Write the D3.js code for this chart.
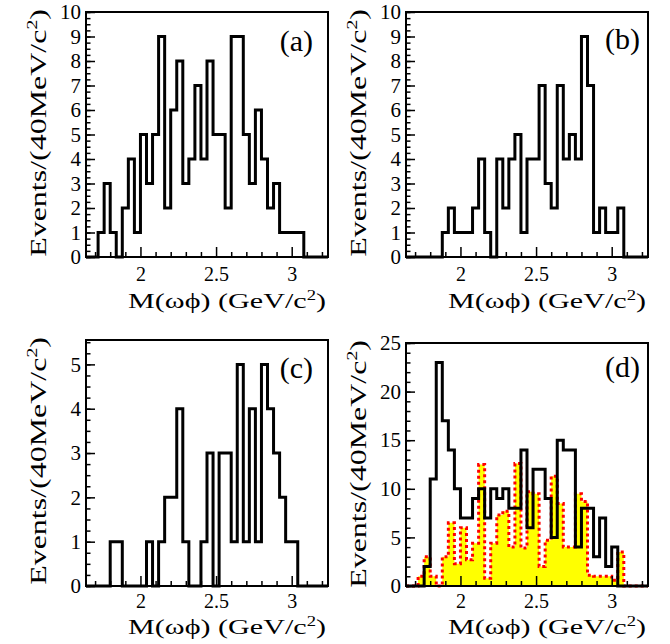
<!DOCTYPE html>
<html>
<head>
<meta charset="utf-8">
<script src="https://cdn.jsdelivr.net/npm/d3@7"></script>
<style>
  body { margin: 0; background: #fff; }
  text { font-family: "Liberation Serif", "DejaVu Serif", serif; fill: #000; }
</style>
</head>
<body>
<svg width="670" height="644"></svg>
<script>
// binning: 40 bins of 40 MeV starting at 1.64 GeV
const binLow = 1.64, binWidth = 0.04, nBins = 40;

// events per bin
const countsA = [0,0,1,3,1,0,2,4,1,5, 3,5,9,2,6,8,3,4,7,4, 8,5,5,2,9,9,5,3,6,4, 2,3,1,1,1,1,0,0,0,0];
const countsB = [0,0,0,0,0,0,1,2,1,1, 1,2,4,1,0,4,2,4,5,1, 4,4,7,3,2,7,4,5,4,9, 7,1,2,1,1,2,0,0,0,0];
const countsC = [0,0,0,0,1,1,0,0,0,0, 1,0,1,2,2,4,1,0,0,1, 3,0,3,3,1,5,1,4,1,5, 4,3,2,1,1,0,0,0,0,0];
const countsD = [0,0,0,2,11,23,17,14,10,7, 7,9,10,7,10,9,10,8,8,14, 6,12,12,9,5,15,14,14,4,8, 8,3,7,2,4,0,0,0,0,0];
// yellow (red dotted) histogram in panel (d)
const bkgD    = [0,0,1,3,1,0,3,6.5,2.3,6, 2.7,4.4,12.5,0.8,4.4,7.3,7.7,4,12.6,3.9,
                 9.7,9.5,2,4.7,11.3,8.5,4,4,9.5,8.7, 1.1,1,1,1,0.6,3.5,0,0,0,0];

// tick labels
const xTicks = [2, 2.5, 3];
const xTickLabels = ['2', '2.5', '3'];
const xMinorTicks = [1.7,1.8,1.9,2.1,2.2,2.3,2.4,2.6,2.7,2.8,2.9,3.1,3.2];
const yTicksAB = [0,1,2,3,4,5,6,7,8,9,10];
const yTicksC = [0,1,2,3,4,5];
const yTicksD = [0,5,10,15,20,25];

const xTitle = 'M(ωϕ) (GeV/c', yTitle = 'Events/(40MeV/c';

const panels = [
  {name:'(a)', counts:countsA, ymax:10,   yticks:yTicksAB, minor:0.25, x:86,  y:12,  w:242, h:245, lab:[313,51]},
  {name:'(b)', counts:countsB, ymax:10,   yticks:yTicksAB, minor:0.25, x:406, y:12,  w:242, h:245, lab:[640,49]},
  {name:'(c)', counts:countsC, ymax:5.55, yticks:yTicksC,  minor:0.25, x:86,  y:340, w:242, h:246, lab:[313,378]},
  {name:'(d)', counts:countsD, ymax:25,   yticks:yTicksD,  minor:1,    x:406, y:343, w:242, h:243, lab:[640,377], bkg:bkgD}
];

const svg = d3.select('svg');

function steps(counts) {
  let pts = counts.map((c, i) => ({x: binLow + i*binWidth, y: c}));
  pts.push({x: binLow + nBins*binWidth, y: counts[nBins-1]});
  return pts;
}

// stretch a text along its own direction so it spans `target` px
function fit(text, target) {
  let w = text.node().getBBox().width;
  text.attr('transform', 'scale(' + (target / w) + ',1)');
}

function addTitle(g, str, size) {
  let t = g.append('text').attr('text-anchor', 'end').style('font-size', size + 'px');
  t.append('tspan').text(str);
  t.append('tspan').attr('dy', -size*0.38).style('font-size', (size*0.62) + 'px').text('2');
  t.append('tspan').attr('dy', size*0.38).text(')');
  return t;
}

panels.forEach((p, pi) => {
  const x = d3.scaleLinear().domain([binLow, binLow + nBins*binWidth]).range([p.x, p.x + p.w]);
  const y = d3.scaleLinear().domain([0, p.ymax]).range([p.y + p.h, p.y]);
  const bottom = p.y + p.h;

  const clipId = 'clip' + pi;
  svg.append('clipPath').attr('id', clipId).append('rect')
    .attr('x', p.x).attr('y', p.y - 2).attr('width', p.w).attr('height', p.h + 4);

  const plot = svg.append('g').attr('clip-path', 'url(#' + clipId + ')');

  if (p.bkg) {
    const b = steps(p.bkg);
    plot.append('path').datum(b)
      .attr('d', d3.area().curve(d3.curveStepAfter).x(d => x(d.x)).y0(y(0)).y1(d => y(d.y)))
      .attr('fill', '#ffff00');
    plot.append('path').datum(b)
      .attr('d', d3.line().curve(d3.curveStepAfter).x(d => x(d.x)).y(d => y(d.y)))
      .attr('fill', 'none').attr('stroke', '#ff0000').attr('stroke-width', 3)
      .attr('stroke-dasharray', '3,3');
  }

  plot.append('path').datum(steps(p.counts))
    .attr('d', d3.line().curve(d3.curveStepAfter).x(d => x(d.x)).y(d => y(d.y)))
    .attr('fill', 'none').attr('stroke', '#000').attr('stroke-width', 3);

  // frame
  svg.append('rect').attr('x', p.x).attr('y', p.y).attr('width', p.w).attr('height', p.h)
    .attr('fill', 'none').attr('stroke', '#000').attr('stroke-width', 2);

  // x axis (ticks inside)
  const xa = svg.append('g').attr('transform', 'translate(0,' + bottom + ')')
    .call(d3.axisBottom(x).tickValues(xTicks).tickFormat((d, i) => xTickLabels[i])
      .tickSize(-10).tickPadding(pi < 2 ? 10 : 8));
  svg.append('g').attr('transform', 'translate(0,' + bottom + ')')
    .call(d3.axisBottom(x).tickValues(xMinorTicks).tickFormat('').tickSize(-5))
    .call(g => g.select('.domain').remove());
  xa.select('.domain').remove();
  xa.selectAll('text').style('font-size', '20px').style('font-family', '"Liberation Serif", serif');

  // y axis
  const ya = svg.append('g').attr('transform', 'translate(' + p.x + ',0)')
    .call(d3.axisLeft(y).tickValues(p.yticks).tickFormat(d3.format('d')).tickSize(-9).tickPadding(5));
  svg.append('g').attr('transform', 'translate(' + p.x + ',0)')
    .call(d3.axisLeft(y).tickValues(d3.range(0, p.ymax + 1e-6, p.minor)).tickFormat('').tickSize(-4.5))
    .call(g => g.select('.domain').remove());
  ya.select('.domain').remove();
  ya.selectAll('text').style('font-size', '21px').style('font-family', '"Liberation Serif", serif');
  svg.selectAll('.tick line').attr('stroke-width', 1.5);

  // panel tag
  svg.append('text').attr('x', p.lab[0]).attr('y', p.lab[1]).attr('text-anchor', 'end')
    .style('font-size', '30px').text(p.name);

  // x title
  const gx = svg.append('g').attr('transform', 'translate(' + (p.x + p.w - 2) + ',' + (pi < 2 ? 308 : 634) + ')');
  fit(addTitle(gx, xTitle, 22), 198);

  // y title
  const gy = svg.append('g').attr('transform', 'translate(' + (p.x - 40) + ',' + (p.y - 3) + ') rotate(-90)');
  fit(addTitle(gy, yTitle, 23), 248);
});
</script>
</body>
</html>
